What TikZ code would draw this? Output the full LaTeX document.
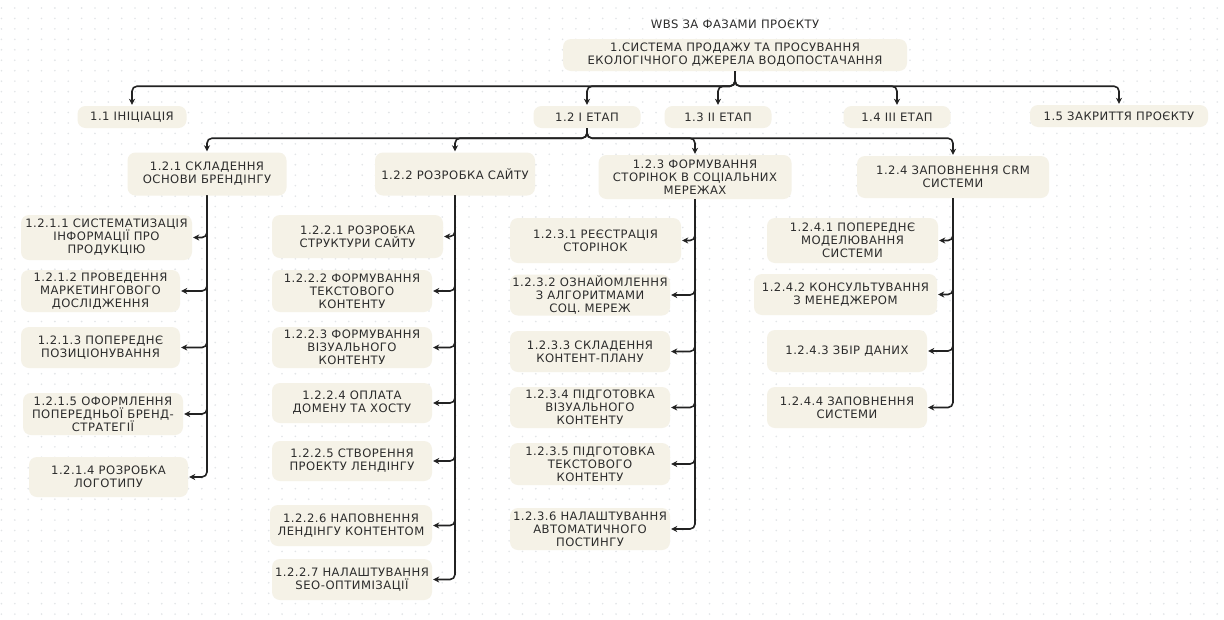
\documentclass[tikz,border=0pt]{standalone}
\usepackage{fontspec}
\setmainfont{DejaVu Sans}[LetterSpace=4]
\usetikzlibrary{arrows.meta}
\definecolor{boxfill}{HTML}{F5F2E7}
\definecolor{ink}{HTML}{2C2C2C}
\definecolor{wire}{HTML}{222222}
\definecolor{dotgray}{HTML}{E2E5E7}
\tikzset{
  wbs/.style={fill=boxfill, rounded corners=8pt, align=center, text=ink,
    font=\fontsize{11.6}{13}\selectfont, inner sep=0pt},
  sz/.style 2 args={minimum width=#1pt, minimum height=#2pt},
  conn/.style={draw=wire, line width=1.6pt, rounded corners=5pt,
    -{Stealth[length=6pt,width=6pt,inset=1.8pt]}, shorten >=1pt},
  heading/.style={text=ink, font=\fontsize{11.6}{13}\selectfont}
}
\begin{document}
\begin{tikzpicture}[x=1pt,y=-1pt]
  % page frame and dotted grid backdrop
  \fill[white] (0,0) rectangle (1224,619);
  \useasboundingbox (0,0) rectangle (1224,619);
  \foreach \i in {0,...,91}
    \foreach \j in {0,...,59}
      \fill[dotgray] (1.45+13.36*\i, 8+10.45*\j) circle (0.9pt);

  % title and root
  \node[heading] (title) at (735,24) {WBS ЗА ФАЗАМИ ПРОЄКТУ};
  \node[wbs, sz={344}{32}] (root) at (735,55)
    {1.СИСТЕМА ПРОДАЖУ ТА ПРОСУВАННЯ\\ЕКОЛОГІЧНОГО ДЖЕРЕЛА ВОДОПОСТАЧАННЯ};

  % phases
  \node[wbs, sz={109}{22}] (c11) at (132,117) {1.1 ІНІЦІАЦІЯ};
  \node[wbs, sz={107}{22}] (c12) at (587,117) {1.2 І ЕТАП};
  \node[wbs, sz={107}{22}] (c13) at (718,117) {1.3 ІІ ЕТАП};
  \node[wbs, sz={107}{22}] (c14) at (897,117) {1.4 ІІІ ЕТАП};
  \node[wbs, sz={178}{22}] (c15) at (1119,116) {1.5 ЗАКРИТТЯ ПРОЄКТУ};

  % stage I work packages
  \node[wbs, sz={159}{43}] (c121) at (207,174) {1.2.1 СКЛАДЕННЯ\\ОСНОВИ БРЕНДІНГУ};
  \node[wbs, sz={160}{43}] (c122) at (455,174) {1.2.2 РОЗРОБКА САЙТУ};
  \node[wbs, sz={193}{44}] (c123) at (695,177) {1.2.3 ФОРМУВАННЯ\\СТОРІНОК В СОЦІАЛЬНИХ\\МЕРЕЖАХ};
  \node[wbs, sz={192}{42}] (c124) at (953,177) {1.2.4 ЗАПОВНЕННЯ CRM\\СИСТЕМИ};

  % 1.2.1 branding
  \node[wbs, sz={171}{45}] (c1211) at (106.5,237.5) {1.2.1.1 СИСТЕМАТИЗАЦІЯ\\ІНФОРМАЦІЇ ПРО\\ПРОДУКЦІЮ};
  \node[wbs, sz={159}{42}] (c1212) at (100.5,291) {1.2.1.2 ПРОВЕДЕННЯ\\МАРКЕТИНГОВОГО\\ДОСЛІДЖЕННЯ};
  \node[wbs, sz={159}{41}] (c1213) at (100.5,347.5) {1.2.1.3 ПОПЕРЕДНЄ\\ПОЗИЦІОНУВАННЯ};
  \node[wbs, sz={160}{42}] (c1215) at (103,414) {1.2.1.5 ОФОРМЛЕННЯ\\ПОПЕРЕДНЬОЇ БРЕНД-\\СТРАТЕГІЇ};
  \node[wbs, sz={159}{40}] (c1214) at (108.5,477) {1.2.1.4 РОЗРОБКА\\ЛОГОТИПУ};

  % 1.2.2 website
  \node[wbs, sz={171}{43}] (c1221) at (357.5,236.5) {1.2.2.1 РОЗРОБКА\\СТРУКТУРИ САЙТУ};
  \node[wbs, sz={160}{42}] (c1222) at (352,291) {1.2.2.2 ФОРМУВАННЯ\\ТЕКСТОВОГО\\КОНТЕНТУ};
  \node[wbs, sz={160}{41}] (c1223) at (352,347.5) {1.2.2.3 ФОРМУВАННЯ\\ВІЗУАЛЬНОГО\\КОНТЕНТУ};
  \node[wbs, sz={160}{40}] (c1224) at (352,403) {1.2.2.4 ОПЛАТА\\ДОМЕНУ ТА ХОСТУ};
  \node[wbs, sz={160}{40}] (c1225) at (352,461) {1.2.2.5 СТВОРЕННЯ\\ПРОЕКТУ ЛЕНДІНГУ};
  \node[wbs, sz={162}{41}] (c1226) at (351,525.5) {1.2.2.6 НАПОВНЕННЯ\\ЛЕНДІНГУ КОНТЕНТОМ};
  \node[wbs, sz={160}{41}] (c1227) at (352,579.5) {1.2.2.7 НАЛАШТУВАННЯ\\SEO-ОПТИМІЗАЦІЇ};

  % 1.2.3 social networks
  \node[wbs, sz={171}{45}] (c1231) at (595.5,240.5) {1.2.3.1 РЕЄСТРАЦІЯ\\СТОРІНОК};
  \node[wbs, sz={160}{41}] (c1232) at (590,295) {1.2.3.2 ОЗНАЙОМЛЕННЯ\\З АЛГОРИТМАМИ\\СОЦ. МЕРЕЖ};
  \node[wbs, sz={160}{41}] (c1233) at (590,351.5) {1.2.3.3 СКЛАДЕННЯ\\КОНТЕНТ-ПЛАНУ};
  \node[wbs, sz={160}{41}] (c1234) at (590,407.5) {1.2.3.4 ПІДГОТОВКА\\ВІЗУАЛЬНОГО\\КОНТЕНТУ};
  \node[wbs, sz={160}{42}] (c1235) at (590,464) {1.2.3.5 ПІДГОТОВКА\\ТЕКСТОВОГО\\КОНТЕНТУ};
  \node[wbs, sz={160}{42}] (c1236) at (590,529) {1.2.3.6 НАЛАШТУВАННЯ\\АВТОМАТИЧНОГО\\ПОСТИНГУ};

  % 1.2.4 CRM
  \node[wbs, sz={171}{45}] (c1241) at (852.5,240.5) {1.2.4.1 ПОПЕРЕДНЄ\\МОДЕЛЮВАННЯ\\СИСТЕМИ};
  \node[wbs, sz={183}{41}] (c1242) at (845.5,294.5) {1.2.4.2 КОНСУЛЬТУВАННЯ\\З МЕНЕДЖЕРОМ};
  \node[wbs, sz={160}{42}] (c1243) at (847,351) {1.2.4.3 ЗБІР ДАНИХ};
  \node[wbs, sz={160}{41}] (c1244) at (847,407.5) {1.2.4.4 ЗАПОВНЕННЯ\\СИСТЕМИ};

  % root to phases
  \foreach \t in {c11,c12,c13,c14,c15}
    \draw[conn] (root.south) -- ++(0,15) -| (\t.north);

  % stage I to its work packages
  \foreach \t in {c121,c122,c123,c124}
    \draw[conn] (c12.south) -- ++(0,10) -| (\t.north);

  % work packages to tasks
  \foreach \t in {c1211,c1212,c1213,c1215,c1214}
    \draw[conn] (c121.south) |- (\t.east);
  \foreach \t in {c1221,c1222,c1223,c1224,c1225,c1226,c1227}
    \draw[conn] (c122.south) |- (\t.east);
  \foreach \t in {c1231,c1232,c1233,c1234,c1235,c1236}
    \draw[conn] (c123.south) |- (\t.east);
  \foreach \t in {c1241,c1242,c1243,c1244}
    \draw[conn] (c124.south) |- (\t.east);
\end{tikzpicture}
\end{document}
